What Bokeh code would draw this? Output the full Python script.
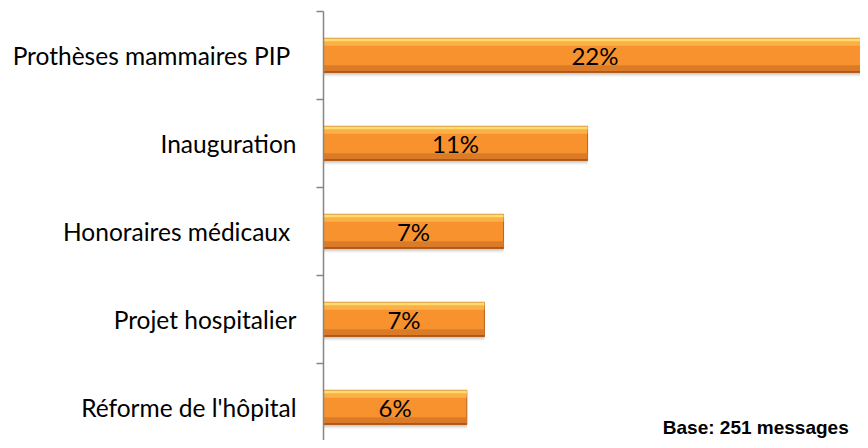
from bokeh.plotting import figure
from bokeh.models import ColumnDataSource, FixedTicker, Range1d, Label
from bokeh.transform import dodge
from bokeh.core.properties import value
from bokeh.embed import file_html
from bokeh.resources import INLINE

# ---- data ----
categories = ["Réforme de l'hôpital", "Projet hospitalier", "Honoraires médicaux ",
              "Inauguration", "Prothèses mammaires  PIP"]
values = [5.85, 6.57, 7.35, 10.78, 22.16]
labels = ["6%", "7%", "7%", "11%", "22%"]
base_note = "Base: 251 messages"

pos = list(range(len(categories)))
src = ColumnDataSource(dict(
    y=pos, v=values, half=[v / 2 for v in values], lab=labels,
))

FONT = "Lato"
p = figure(width=860, height=440, output_backend="svg", toolbar_location=None,
           x_range=Range1d(0, 21.92), y_range=Range1d(-0.375, 4.5),
           x_axis_location=None, min_border_left=323, min_border_right=0,
           min_border_top=11, min_border_bottom=0)
p.outline_line_color = None
p.xgrid.visible = False
p.ygrid.visible = False

H = 0.39
# shadow
p.hbar(y=dodge('y', -0.045, range=p.y_range), right='v', left=0, height=H,
       fill_color="#000000", fill_alpha=0.06, line_color=None, source=src)
p.hbar(y=dodge('y', -0.03, range=p.y_range), right='v', left=0, height=H,
       fill_color="#000000", fill_alpha=0.08, line_color=None, source=src)
# main bar
p.hbar(y='y', right='v', left=0, height=H, fill_color="#F7922E",
       line_color="#B8621C", line_width=1, source=src)
# top highlights
p.hbar(y=dodge('y', 0.15, range=p.y_range), right='v', left=0, height=0.08,
       fill_color="#FBB048", line_color=None, source=src)
p.hbar(y=dodge('y', 0.178, range=p.y_range), right='v', left=0, height=0.03,
       fill_color="#FFDB70", line_color=None, source=src)
# bottom darkening
p.hbar(y=dodge('y', -0.15, range=p.y_range), right='v', left=0, height=0.08,
       fill_color="#DB7B28", line_color=None, source=src)
p.hbar(y=dodge('y', -0.185, range=p.y_range), right='v', left=0, height=0.02,
       fill_color="#A85A1C", line_color=None, source=src)

p.text(x='half', y='y', text='lab', source=src, text_align="center",
       text_baseline="middle", text_font=value(FONT), text_font_size="24px",
       text_color="#000000")

ax = p.yaxis[0]
ax.ticker = FixedTicker(ticks=pos, minor_ticks=[i + 0.5 for i in range(-1, len(pos))])
ax.major_label_overrides = {i: c for i, c in zip(pos, categories)}
ax.major_tick_out = 0
ax.major_tick_in = 0
ax.minor_tick_out = 7
ax.minor_tick_in = 0
ax.minor_tick_line_color = "#868686"
ax.minor_tick_line_width = 1.5
ax.axis_line_color = "#868686"
ax.axis_line_width = 1.5
ax.major_label_standoff = 20
ax.major_label_text_font = FONT
ax.major_label_text_font_size = "24.5px"
ax.major_label_text_color = "#000000"

p.add_layout(Label(x=13.85, y=-0.105, text=base_note, text_font="Liberation Sans",
                   text_font_style="bold", text_font_size="19px",
                   text_baseline="top", text_color="#000000"))

open("out.html", "w").write(file_html(p, INLINE))
